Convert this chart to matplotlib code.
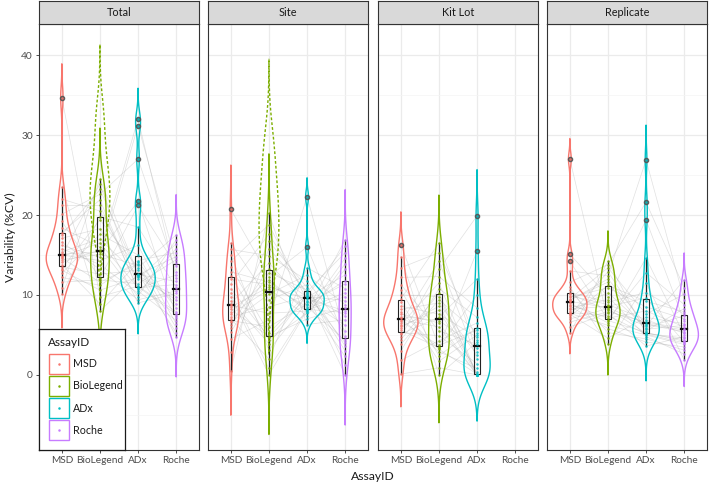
import numpy as np
import matplotlib
matplotlib.use('Agg')
import matplotlib.pyplot as plt
from matplotlib.patches import Polygon, Rectangle

plt.rcParams['font.family'] = ['Lato', 'DejaVu Sans']

facets = ['Total', 'Site', 'Kit Lot', 'Replicate']
assays = ['MSD', 'BioLegend', 'ADx', 'Roche']
colors = ['#F8766D', '#7CAE00', '#00BFC4', '#C77CFF']
y_ticks = [0, 10, 20, 30, 40]

# ---- data (%CV per sample; index i = same sample across assays) ----
total_msd = [15.4, 12.2, 17.8, 14.1, 34.7, 13.3, 16.6, 10.9, 19.2, 14.8, 13.8, 22.0, 15.0, 11.6, 17.1,
             14.4, 20.1, 13.1, 15.8, 12.7, 23.5, 14.9, 16.2, 13.5, 18.4, 10.1, 14.6, 21.2, 15.1, 17.5]
total_biolegend = [17.0, 11.2, 21.9, 15.6, 9.8, 19.4, 13.2, 24.5, 12.1, 16.5, 8.9, 20.5, 14.3, 11.9, 18.3,
                   15.1, 22.6, 10.6, 13.8, 17.6, 8.0, 23.9, 14.7, 12.6, 16.0, 19.8, 11.6, 21.2, 15.4, 23.2]
total_adx = [12.4, 14.3, 10.5, 32.0, 11.1, 13.4, 9.4, 12.65, 21.2, 10.9, 14.1, 12.0, 16.2, 11.4, 9.0,
             13.7, 27.0, 12.2, 10.2, 15.0, 12.55, 11.0, 31.2, 13.1, 9.8, 18.5, 13.9, 10.8, 21.7, 12.5]
total_roche = [9.8, 15.3, 6.8, 12.1, 7.9, 17.5, 10.5, 5.3, 13.6, 11.3, 8.4, 16.4, 7.1, 14.4, 10.2,
               4.8, 12.9, 9.4, 15.8, 6.4, 11.7, 7.6, 14.0, 8.9, 16.9, 10.9, 5.9, 12.5, 7.4, 14.8]

site_msd = [8.5, 12.4, 5.9, 10.3, 20.7, 7.3, 0.5, 13.5, 8.9, 6.6, 15.0, 7.9, 11.4, 4.5, 9.8,
            6.3, 16.5, 8.2, 2.8, 12.0, 7.0, 14.2, 8.7, 5.4, 10.8, 7.6, 15.7, 6.8, 9.3, 12.9]
site_biolegend = [11.0, 4.4, 16.7, 0.8, 12.3, 8.5, 20.2, 5.2, 14.0, 10.1, 3.1, 11.9, 17.6, 6.9, 0.0,
                  13.3, 9.4, 4.8, 15.8, 11.3, 2.0, 18.8, 7.7, 12.8, 4.7, 10.7, 14.9, 6.0, 3.9, 11.6]
site_adx = [9.5, 7.7, 10.9, 8.3, 16.0, 9.9, 6.3, 10.2, 8.7, 12.5, 9.1, 7.9, 10.0, 22.3, 8.1,
            9.7, 11.3, 7.0, 10.4, 8.5, 13.4, 9.3, 8.0, 10.6, 9.8, 7.4, 11.8, 8.9, 10.1, 8.2]
site_roche = [8.0, 13.2, 3.6, 10.3, 4.5, 16.1, 6.9, 0.0, 11.8, 8.8, 2.3, 14.6, 7.4, 4.9, 9.8,
              12.5, 1.2, 8.4, 15.3, 4.3, 10.8, 6.2, 16.9, 3.0, 9.3, 13.9, 5.5, 11.4, 4.0, 7.8]

kitlot_msd = [7.3, 4.4, 10.6, 5.9, 16.3, 6.5, 0.1, 8.6, 5.3, 12.2, 6.9, 3.8, 9.5, 7.9, 5.1,
              14.8, 6.3, 1.8, 8.2, 7.1, 4.8, 11.3, 6.1, 9.1, 3.0, 7.6, 13.4, 5.6, 10.0, 6.7]
kitlot_biolegend = [6.8, 10.2, 2.4, 8.6, 3.5, 14.2, 0.9, 7.6, 4.9, 12.3, 6.0, 9.4, 16.5, 3.2, 7.2,
                    0.0, 11.5, 4.3, 9.0, 2.9, 13.2, 5.5, 8.1, 1.7, 10.8, 6.5, 15.3, 3.4, 9.8, 3.7]
kitlot_adx = [3.4, 0.0, 5.9, 0.3, 15.5, 2.0, 0.0, 4.7, 1.4, 8.4, 0.0, 5.3, 2.9, 0.1, 12.0,
              4.1, 0.0, 6.5, 2.5, 0.8, 19.9, 3.8, 0.0, 5.0, 7.2, 0.0, 4.4, 10.0, 0.0, 5.6]
kitlot_roche = []

replicate_msd = [9.2, 7.3, 10.6, 8.4, 27.0, 9.5, 6.0, 11.0, 8.0, 9.9, 7.7, 13.0, 8.8, 5.2, 10.1,
                 9.0, 15.1, 7.6, 9.4, 8.2, 6.6, 11.6, 8.6, 9.7, 7.0, 14.2, 9.3, 7.8, 10.3, 7.5]
replicate_biolegend = [8.4, 11.2, 5.3, 9.4, 6.8, 13.4, 7.7, 3.8, 10.3, 8.8, 6.2, 12.4, 7.1, 14.2, 8.1,
                       6.5, 9.8, 4.6, 11.6, 8.6, 7.9, 13.8, 5.8, 10.9, 8.3, 6.9, 12.0, 7.4, 9.1, 12.9]
replicate_adx = [6.4, 9.2, 4.5, 19.4, 5.3, 7.6, 3.6, 11.5, 5.9, 6.9, 5.0, 26.9, 8.0, 5.2, 6.1,
                 14.6, 4.8, 7.2, 5.5, 9.6, 6.6, 21.6, 4.1, 8.5, 5.2, 12.8, 6.3, 5.1, 10.3, 5.7]
replicate_roche = [5.6, 7.9, 3.1, 6.7, 4.2, 10.1, 4.8, 1.9, 7.4, 5.2, 3.8, 9.4, 6.0, 4.4, 11.9,
                   5.0, 2.6, 6.4, 8.3, 4.1, 5.8, 10.9, 3.5, 7.0, 4.6, 8.8, 5.4, 4.0, 7.6, 6.2]

# BioLegend values including flagged runs (dashed violin)
total_biolegend_flagged = [16.5, 18.0, 19.5, 20.5, 21.5, 22.5, 23.5, 24.5, 25.5, 27.0, 29.0, 31.5, 33.5]
site_biolegend_flagged = [12.0, 14.0, 15.5, 17.0, 18.5, 20.0, 21.5, 23.0, 25.0, 27.5, 30.0]

data = {
    'Total': [total_msd, total_biolegend, total_adx, total_roche],
    'Site': [site_msd, site_biolegend, site_adx, site_roche],
    'Kit Lot': [kitlot_msd, kitlot_biolegend, kitlot_adx, kitlot_roche],
    'Replicate': [replicate_msd, replicate_biolegend, replicate_adx, replicate_roche],
}
flagged = {'Total': total_biolegend_flagged, 'Site': site_biolegend_flagged}


def nrd0(x):
    x = np.asarray(x, float)
    sd = x.std(ddof=1)
    q75, q25 = np.percentile(x, [75, 25])
    lo = min(sd, (q75 - q25) / 1.34)
    if lo <= 0:
        lo = sd
    return 0.9 * lo * len(x) ** -0.2


def kde(x):
    x = np.asarray(x, float)
    bw = nrd0(x)
    ys = np.linspace(x.min() - 3 * bw, x.max() + 3 * bw, 512)
    d = np.exp(-0.5 * ((ys[:, None] - x[None, :]) / bw) ** 2).sum(1) / (len(x) * bw * np.sqrt(2 * np.pi))
    return ys, d


def violin(ax, pos, ys, w, color, ls='-', lw=1.0):
    xs = np.concatenate([pos - w, (pos + w)[::-1]])
    yy = np.concatenate([ys, ys[::-1]])
    ax.add_patch(Polygon(np.column_stack([xs, yy]), closed=True, fill=False,
                         edgecolor=color, lw=lw, ls=ls, zorder=3))


W, H = 709, 484
fig = plt.figure(figsize=(W / 100, H / 100), dpi=100)
panel_left = [39, 208, 378, 547]
panel_w = 160
top_px, bot_px = 24, 450
ylim = (-9.4, 43.9)

for k, f in enumerate(facets):
    ax = fig.add_axes([panel_left[k] / W, 1 - bot_px / H, panel_w / W, (bot_px - top_px) / H])
    ax.set_xlim(0.4, 4.6)
    ax.set_ylim(*ylim)
    ax.set_xticks(range(1, 5))
    ax.set_xticklabels(assays)
    ax.set_yticks(y_ticks)
    ax.set_yticks([-5, 5, 15, 25, 35], minor=True)
    ax.grid(True, which='major', color='#EBEBEB', lw=0.9, zorder=0)
    ax.grid(True, which='minor', axis='y', color='#F4F4F4', lw=0.5, zorder=0)
    ax.set_axisbelow(True)
    for s in ax.spines.values():
        s.set_color('#333333')
        s.set_linewidth(0.8)
    ax.tick_params(which='major', length=2.5, width=0.6, color='#333333', labelsize=7.3,
                   labelcolor='#4D4D4D', pad=2)
    ax.tick_params(which='minor', length=0)
    if k > 0:
        ax.tick_params(axis='y', left=False, labelleft=False)

    series = data[f]
    n = max(len(s) for s in series)
    # paired gray lines
    for i in range(n):
        xs = [j + 1 for j, s in enumerate(series) if len(s) > i]
        ys = [s[i] for s in series if len(s) > i]
        ax.plot(xs, ys, color='#A8A8A8', alpha=0.35, lw=0.5, zorder=1)

    dens = [kde(s) if len(s) else None for s in series]
    dmax = max(d[1].max() for d in dens if d is not None)
    for j, s in enumerate(series):
        if not len(s):
            continue
        pos = j + 1
        ys, d = dens[j]
        violin(ax, pos, ys, 0.45 * d / dmax, colors[j])
        if j == 1 and f in flagged:
            ys2, d2 = kde(flagged[f])
            violin(ax, pos, ys2, 0.26 * d2 / d2.max(), colors[j], ls=(0, (2, 1.5)), lw=1.0)
        arr = np.asarray(s, float)
        q1, med, q3 = np.percentile(arr, [25, 50, 75])
        iqr = q3 - q1
        lo_w = arr[arr >= q1 - 1.5 * iqr].min()
        hi_w = arr[arr <= q3 + 1.5 * iqr].max()
        out = arr[(arr < q1 - 1.5 * iqr) | (arr > q3 + 1.5 * iqr)]
        bw_ = 0.085
        ax.plot([pos, pos], [q3, hi_w], color='#222222', lw=0.9, zorder=4)
        ax.plot([pos, pos], [lo_w, q1], color='#222222', lw=0.9, zorder=4)
        ax.add_patch(Rectangle((pos - bw_, q1), 2 * bw_, q3 - q1, fill=False,
                               edgecolor='#222222', lw=0.8, zorder=4))
        ax.plot([pos - bw_, pos + bw_], [med, med], color='#111111', lw=1.6, zorder=4)
        ax.plot(np.full(len(out), pos), out, 'o', ms=3.0, color='#555555', alpha=0.9, zorder=5)
        ax.plot(np.full(len(arr), pos), arr, 'o', ms=1.8, mec='none', color=colors[j],
                alpha=0.85, zorder=6)

    # strip
    sax = fig.add_axes([panel_left[k] / W, 1 - top_px / H, panel_w / W, (top_px - 1) / H])
    sax.set_facecolor('#D9D9D9')
    sax.set_xticks([])
    sax.set_yticks([])
    for s in sax.spines.values():
        s.set_color('#333333')
        s.set_linewidth(0.8)
    sax.text(0.5, 0.5, f, ha='center', va='center', fontsize=7.8, color='#1A1A1A',
             transform=sax.transAxes)

fig.text(10 / W, 1 - 237 / H, 'Variability (%CV)', rotation=90, ha='center', va='center',
         fontsize=8.7, color='#1A1A1A')
fig.text(373 / W, 1 - 477 / H, 'AssayID', ha='center', va='center', fontsize=8.7, color='#1A1A1A')

# legend
lx0, ly0, lx1, ly1 = 39, 329, 125, 450
lax = fig.add_axes([lx0 / W, 1 - ly1 / H, (lx1 - lx0) / W, (ly1 - ly0) / H])
lax.set_xlim(lx0, lx1)
lax.set_ylim(ly1, ly0)
lax.set_xticks([])
lax.set_yticks([])
lax.set_facecolor('white')
for s in lax.spines.values():
    s.set_color('#1A1A1A')
    s.set_linewidth(0.9)
lax.text(48, 342, 'AssayID', ha='left', va='center', fontsize=8.5, color='#1A1A1A')
for j, a in enumerate(assays):
    yc = 363.5 + j * 22.3
    lax.add_patch(Rectangle((48.5, yc - 10), 20.5, 20, fill=False, edgecolor=colors[j], lw=1.0))
    lax.plot([58.7], [yc], 'o', ms=1.8, mec='none', color=colors[j])
    lax.text(73, yc, a, ha='left', va='center', fontsize=7.7, color='#1A1A1A')

fig.savefig('out.png', dpi=100)
